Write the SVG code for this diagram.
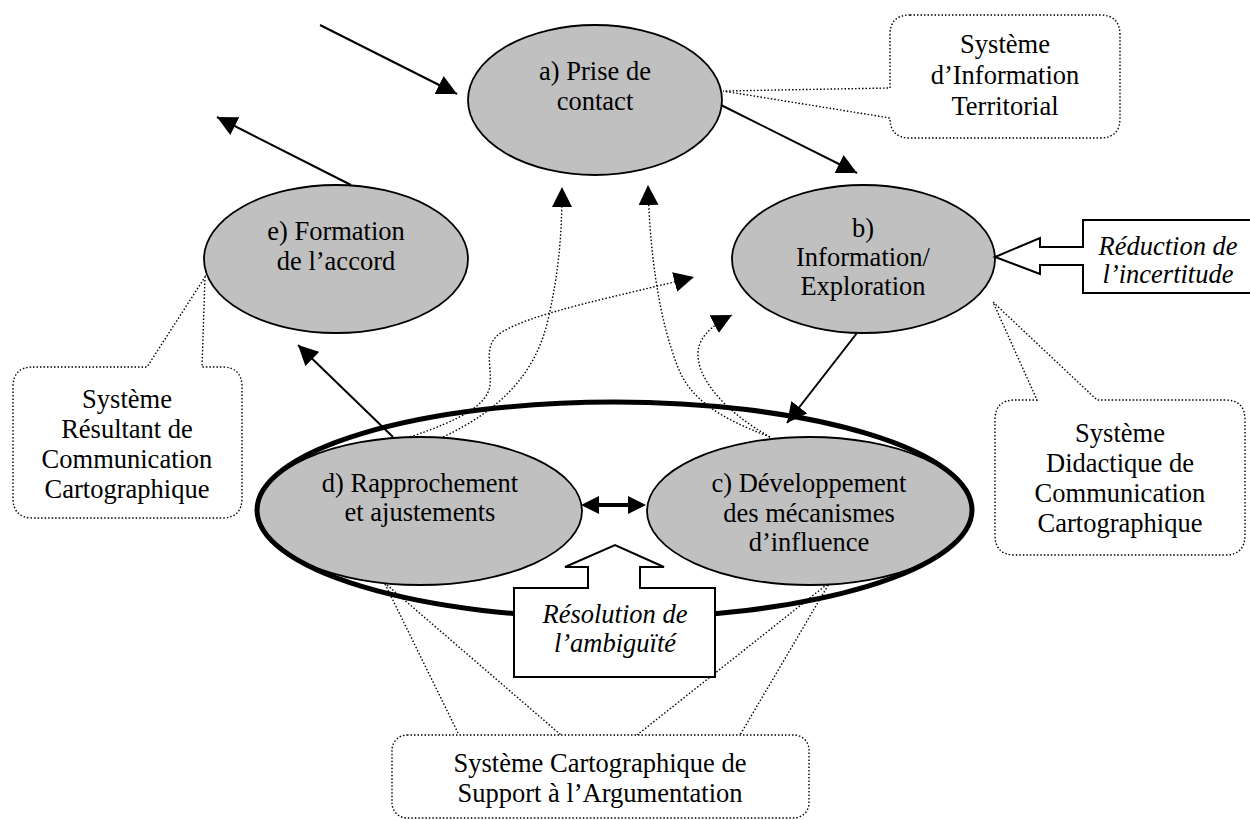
<svg xmlns="http://www.w3.org/2000/svg" width="1250" height="820" viewBox="0 0 1250 820">
<defs>
<style>
.node{fill:#c0c0c0;stroke:#000;stroke-width:1.8}
.t{font-family:"Liberation Serif","Times New Roman",serif;font-size:26.5px;text-anchor:middle;fill:#000}
.i{font-style:italic}
.solid{fill:none;stroke:#000;stroke-width:2}
.dot{fill:none;stroke:#000;stroke-width:1.4;stroke-dasharray:1.5 2}
.call{fill:#fff;stroke:#000;stroke-width:1.4;stroke-dasharray:1.5 2}
.blk{fill:#fff;stroke:#000;stroke-width:2}
</style>
<marker id="ah" markerUnits="userSpaceOnUse" markerWidth="20" markerHeight="20" viewBox="0 0 20 20" refX="20" refY="10" orient="auto">
<path d="M0,0 L20,10 L0,20 Z" fill="#000"/>
</marker>
<marker id="ah2" markerUnits="userSpaceOnUse" markerWidth="18" markerHeight="18" viewBox="0 0 18 18" refX="12" refY="9" orient="auto-start-reverse">
<path d="M0,0 L18,9 L0,18 Z" fill="#000"/>
</marker>
</defs>
<rect width="1250" height="820" fill="#fff"/>

<g id="callout-sit">
<path class="call" d="M910,15 H1100 Q1120,15 1120,35 V118 Q1120,138 1100,138 H910 Q890,138 890,118 L723,91 L890,88 V35 Q890,15 910,15 Z"/>
<text class="t" x="1005" y="53">Système</text>
<text class="t" x="1005" y="84">d’Information</text>
<text class="t" x="1005" y="115">Territorial</text>
</g>

<g id="callout-resultant">
<path class="call" d="M33,367 H147 L205,277 L202,367 H222 Q242,367 242,387 V498 Q242,518 222,518 H33 Q13,518 13,498 V387 Q13,367 33,367 Z"/>
<text class="t" x="127" y="408">Système</text>
<text class="t" x="127" y="438">Résultant de</text>
<text class="t" x="127" y="468">Communication</text>
<text class="t" x="127" y="498">Cartographique</text>
</g>

<g id="callout-didactique">
<path class="call" d="M1015,400 H1037 L993,302 L1097,400 H1225 Q1245,400 1245,420 V535 Q1245,555 1225,555 H1015 Q995,555 995,535 V420 Q995,400 1015,400 Z"/>
<text class="t" x="1120" y="442">Système</text>
<text class="t" x="1120" y="472">Didactique de</text>
<text class="t" x="1120" y="502">Communication</text>
<text class="t" x="1120" y="532">Cartographique</text>
</g>

<g id="callout-support">
<path class="dot" d="M385,584 L459,735 M387,585 L561,735 M830,582 L637,735 M830,582 L740,735"/>
<rect class="call" x="392" y="735" width="417" height="83" rx="15" ry="15"/>
<text class="t" x="600" y="772">Système Cartographique de</text>
<text class="t" x="600" y="802">Support à l’Argumentation</text>
</g>

<g id="node-a">
<ellipse class="node" cx="595" cy="100" rx="127" ry="75"/>
<text class="t" x="595" y="80">a) Prise de</text>
<text class="t" x="595" y="110">contact</text>
</g>

<g id="node-b">
<ellipse class="node" cx="863.5" cy="259" rx="131.5" ry="74"/>
<text class="t" x="863" y="237">b)</text>
<text class="t" x="863" y="266">Information/</text>
<text class="t" x="863" y="295">Exploration</text>
</g>

<g id="node-e">
<ellipse class="node" cx="336" cy="259" rx="132" ry="74"/>
<text class="t" x="336" y="240">e) Formation</text>
<text class="t" x="336" y="270">de l’accord</text>
</g>

<g id="node-d">
<ellipse class="node" cx="420" cy="511" rx="162" ry="74"/>
<text class="t" x="420" y="492">d) Rapprochement</text>
<text class="t" x="420" y="521">et ajustements</text>
</g>

<g id="node-c">
<ellipse class="node" cx="809.5" cy="511" rx="162.5" ry="74"/>
<text class="t" x="809" y="492">c) Développement</text>
<text class="t" x="809" y="522">des mécanismes</text>
<text class="t" x="809" y="551">d’influence</text>
</g>

<g id="negotiation-ring">
<ellipse cx="614.5" cy="510" rx="357.5" ry="108" fill="none" stroke="#000" stroke-width="5"/>
</g>

<g id="block-reduction">
<path class="blk" d="M1083,220 H1253 V293 H1083 V265 H1040 V274 L995,257 L1040,238 V247 H1083 Z"/>
<text class="t i" x="1168" y="255">Réduction de</text>
<text class="t i" x="1168" y="283">l’incertitude</text>
</g>

<g id="block-resolution">
<path class="blk" d="M514,588 H588 V567 H565 L615,545 L664,567 H640 V588 H715 V677 H514 Z"/>
<text class="t i" x="615" y="623">Résolution de</text>
<text class="t i" x="615" y="652">l’ambiguïté</text>
</g>

<g id="connectors">
<path class="solid" d="M320,25 L457,94" marker-end="url(#ah)"/>
<path class="solid" d="M721,105 L857,173" marker-end="url(#ah)"/>
<path class="solid" d="M351,185 L217,117" marker-end="url(#ah)"/>
<path class="solid" d="M393,437 L298,345" marker-end="url(#ah)"/>
<path class="solid" d="M857,333 L787,423" marker-end="url(#ah)"/>
<path d="M587,505 L640,505" fill="none" stroke="#000" stroke-width="4" marker-start="url(#ah2)" marker-end="url(#ah2)"/>
<path class="dot" d="M443,437 C500,410 535,375 548,320 C558,275 562,240 562,187" marker-end="url(#ah)"/>
<path class="dot" d="M410,437 C460,420 488,405 490,385 C492,362 482,345 502,332 C535,312 620,296 694,277" marker-end="url(#ah)"/>
<path class="dot" d="M770,437 C720,418 690,400 677,365 C660,320 650,260 648,185" marker-end="url(#ah)"/>
<path class="dot" d="M770,437 C740,420 712,397 701,370 C694,350 697,333 732,315" marker-end="url(#ah)"/>
</g>
</svg>
